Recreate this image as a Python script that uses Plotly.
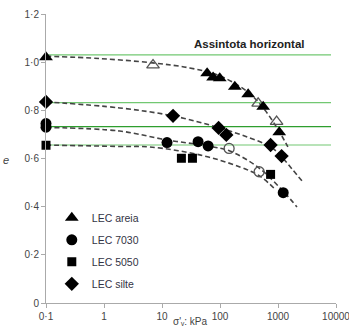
import plotly.graph_objects as go

# ---- data ----
areia_x = [0.1, 60, 76, 99, 180, 306, 555, 1050]
areia_e = [1.02, 0.954, 0.936, 0.933, 0.898, 0.867, 0.815, 0.709]
areia_open_x = [7.0, 455, 946]
areia_open_e = [0.988, 0.829, 0.753]

c7030_x = [0.1, 0.1, 12.2, 41.9, 62.4, 1230]
c7030_e = [0.745, 0.73, 0.666, 0.670, 0.652, 0.458]
c7030_open_x = [143.6, 473]
c7030_open_e = [0.642, 0.545]

c5050_x = [0.1, 21.6, 33.5, 745]
c5050_e = [0.655, 0.601, 0.601, 0.534]

silte_x = [0.1, 15.5, 94.6, 128.5, 745, 1153]
silte_e = [0.835, 0.777, 0.727, 0.698, 0.656, 0.610]

# dashed trend curves
fit_areia_x = [0.1, 0.84, 6.9, 30, 99, 302, 594, 1037, 1480]
fit_areia_e = [1.025, 1.015, 0.997, 0.976, 0.943, 0.876, 0.801, 0.714, 0.648]
fit_silte_x = [0.1, 1.86, 15.3, 99, 327, 753, 1166, 1807, 2690]
fit_silte_e = [0.835, 0.810, 0.777, 0.727, 0.685, 0.648, 0.606, 0.552, 0.502]
fit_7030_x = [0.1, 1.86, 12.1, 61.6, 147.6, 468, 1216, 2124]
fit_7030_e = [0.729, 0.714, 0.677, 0.652, 0.631, 0.561, 0.465, 0.399]
fit_5050_x = [0.1, 1.86, 6.1, 44.8, 220, 486, 920]
fit_5050_e = [0.656, 0.650, 0.648, 0.615, 0.565, 0.527, 0.469]

asymptotes = [1.03, 0.832, 0.732, 0.656]
asym_colors = ["#72c872", "#72c872", "#2e9e2e", "#72c872"]
asym_x = [0.1, 8200]

x_ticks = [0.1, 1, 10, 100, 1000, 10000]
x_ticktext = ["0·1", "1", "10", "100", "1000", "10000"]
y_ticks = [0, 0.2, 0.4, 0.6, 0.8, 1.0, 1.2]
y_ticktext = ["0", "0·2", "0·4", "0·6", "0·8", "1·0", "1·2"]

fig = go.Figure()

for yv, col in zip(asymptotes, asym_colors):
    fig.add_trace(go.Scatter(x=asym_x, y=[yv, yv], mode="lines",
                             line=dict(color=col, width=1.2), showlegend=False, hoverinfo="skip"))

for fx, fe in [(fit_areia_x, fit_areia_e), (fit_silte_x, fit_silte_e),
               (fit_7030_x, fit_7030_e), (fit_5050_x, fit_5050_e)]:
    fig.add_trace(go.Scatter(x=fx, y=fe, mode="lines",
                             line=dict(color="#444444", width=1.6, dash="5px,3px", shape="spline"),
                             showlegend=False, hoverinfo="skip"))

fig.add_trace(go.Scatter(x=areia_open_x, y=areia_open_e, mode="markers", showlegend=False,
                         cliponaxis=False,
                         marker=dict(symbol="triangle-up-open", size=11, color="#555", line=dict(width=1.3))))
fig.add_trace(go.Scatter(x=c7030_open_x, y=c7030_open_e, mode="markers", showlegend=False,
                         cliponaxis=False,
                         marker=dict(symbol="circle-open", size=10, color="#555", line=dict(width=1.3))))

series = [
    ("LEC areia", areia_x, areia_e, "triangle-up", 12),
    ("LEC 7030", c7030_x, c7030_e, "circle", 11),
    ("LEC 5050", c5050_x, c5050_e, "square", 9),
    ("LEC silte", silte_x, silte_e, "diamond", 11),
]
for i, (name, xs, ys, sym, sz) in enumerate(series):
    fig.add_trace(go.Scatter(x=xs, y=ys, mode="markers", name=name, legendgroup=f"g{i}",
                             cliponaxis=False,
                             marker=dict(symbol=sym, size=sz, color="black")))

fig.update_layout(
    width=349, height=330,
    margin=dict(l=46, r=13, t=14, b=27),
    paper_bgcolor="white", plot_bgcolor="white",
    font=dict(family="Liberation Sans, Arial, sans-serif", size=10, color="#444"),
    legend=dict(x=0.02, y=0.345, xanchor="left", yanchor="top", bgcolor="rgba(0,0,0,0)",
                font=dict(size=10.5, color="#334"), tracegroupgap=3, itemsizing="trace"),
    xaxis=dict(type="log", range=[-1, 4], tickvals=x_ticks, ticktext=x_ticktext,
               automargin=False, ticklabeloverflow="allow",
               showgrid=False, zeroline=False, showline=True, linecolor="#aaaaaa", linewidth=1,
               ticks="outside", ticklen=4, tickcolor="#aaaaaa", tickfont=dict(size=10, color="#444")),
    yaxis=dict(range=[0, 1.2], tickvals=y_ticks, ticktext=y_ticktext,
               automargin=False, ticklabeloverflow="allow",
               showgrid=False, zeroline=False, showline=True, linecolor="#aaaaaa", linewidth=1,
               ticks="outside", ticklen=4, tickcolor="#aaaaaa", tickfont=dict(size=10, color="#444")),
)
fig.add_annotation(x=(249 - 46) / 290, xref="paper", y=(303 - 44) / 289, yref="paper",
                   xanchor="center", yanchor="middle",
                   text="<b>Assintota horizontal</b>", showarrow=False,
                   font=dict(size=11.5, color="#222"))
fig.add_annotation(x=(6 - 46) / 290, xref="paper", y=(303 - 160) / 289, yref="paper",
                   xanchor="center", yanchor="middle",
                   text="<i>e</i>", showarrow=False, font=dict(size=11, color="#444"))
fig.add_annotation(x=(190 - 46) / 290, xref="paper", y=(303 - 322) / 289, yref="paper",
                   xanchor="center", yanchor="middle",
                   text="σ'ᵥ: kPa", showarrow=False,
                   font=dict(size=10, color="#444"))

fig.write_html("out.html")
